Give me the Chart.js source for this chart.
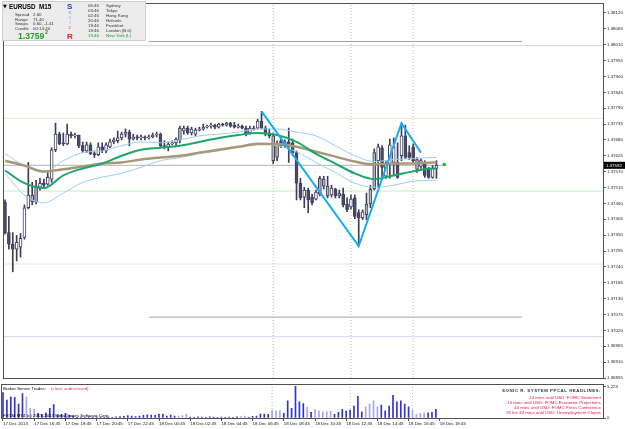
<!DOCTYPE html>
<html lang="en">
<head>
<meta charset="UTF-8">
<title>EURUSD M15</title>
<script src="https://cdn.jsdelivr.net/npm/chart.js@4.4.0/dist/chart.umd.min.js"></script>
<style>
    body { margin: 0; background: #fff; width: 625px; height: 429px; overflow: hidden; position: relative; }
    canvas { position: absolute; left: 0; }
    #main { top: 0; }
    #vol { top: 381px; }
</style>
</head>
<body>
<canvas id="main" width="625" height="382"></canvas>
<canvas id="vol" width="625" height="48"></canvas>
<script>
// ---- data (bar 0 = 17 Dec 14:45) ----
const opens = [1.37465,1.37359,1.37319,1.37301,1.37308,1.37342,1.37445,1.37489,1.37465,1.37516,
1.37530,1.37527,1.37544,1.37646,1.37700,1.37670,1.37666,1.37700,1.37694,1.37697,
1.37660,1.37642,1.37663,1.37632,1.37629,1.37656,1.37642,1.37656,1.37673,1.37677,
1.37687,1.37700,1.37707,1.37683,1.37690,1.37687,1.37690,1.37687,1.37690,1.37697,
1.37700,1.37660,1.37653,1.37666,1.37670,1.37680,1.37711,1.37721,1.37704,1.37700,
1.37714,1.37718,1.37724,1.37728,1.37731,1.37724,1.37735,1.37731,1.37738,1.37731,
1.37724,1.37728,1.37721,1.37704,1.37721,1.37721,1.37745,1.37721,1.37704,1.37694,
1.37619,1.37677,1.37660,1.37673,1.37670,1.37636,1.37530,1.37482,1.37506,1.37482,
1.37475,1.37492,1.37544,1.37520,1.37489,1.37510,1.37486,1.37492,1.37458,1.37448,
1.37479,1.37428,1.37411,1.37421,1.37458,1.37510,1.37608,1.37653,1.37554,1.37598,
1.37602,1.37602,1.37625,1.37694,1.37636,1.37656,1.37612,1.37588,1.37598,1.37578,
1.37550,1.37581];
const highs = [1.37472,1.37415,1.37359,1.37349,1.37356,1.37455,1.37602,1.37533,1.37540,1.37547,
1.37544,1.37567,1.37653,1.37738,1.37707,1.37704,1.37735,1.37707,1.37704,1.37697,
1.37673,1.37673,1.37670,1.37642,1.37670,1.37670,1.37670,1.37683,1.37687,1.37711,
1.37707,1.37718,1.37714,1.37700,1.37697,1.37697,1.37694,1.37697,1.37704,1.37707,
1.37704,1.37677,1.37673,1.37677,1.37687,1.37728,1.37728,1.37728,1.37724,1.37721,
1.37724,1.37735,1.37731,1.37738,1.37735,1.37738,1.37738,1.37741,1.37741,1.37741,
1.37735,1.37731,1.37728,1.37728,1.37728,1.37752,1.37779,1.37728,1.37718,1.37704,
1.37677,1.37687,1.37680,1.37721,1.37683,1.37642,1.37547,1.37516,1.37513,1.37492,
1.37506,1.37554,1.37554,1.37554,1.37523,1.37513,1.37506,1.37513,1.37479,1.37489,
1.37489,1.37438,1.37438,1.37496,1.37523,1.37649,1.37666,1.37660,1.37605,1.37683,
1.37687,1.37670,1.37738,1.37731,1.37660,1.37666,1.37619,1.37615,1.37608,1.37585,
1.37591,1.37608];
const lows = [1.37353,1.37301,1.37223,1.37261,1.37274,1.37336,1.37441,1.37455,1.37458,1.37506,
1.37513,1.37523,1.37533,1.37639,1.37663,1.37660,1.37663,1.37687,1.37687,1.37653,
1.37636,1.37636,1.37629,1.37619,1.37625,1.37636,1.37636,1.37653,1.37666,1.37670,
1.37680,1.37690,1.37660,1.37680,1.37680,1.37680,1.37680,1.37683,1.37687,1.37690,
1.37656,1.37649,1.37642,1.37663,1.37660,1.37670,1.37700,1.37700,1.37697,1.37694,
1.37711,1.37714,1.37721,1.37721,1.37718,1.37721,1.37728,1.37728,1.37724,1.37721,
1.37721,1.37718,1.37694,1.37700,1.37714,1.37718,1.37718,1.37694,1.37687,1.37598,
1.37608,1.37653,1.37653,1.37602,1.37625,1.37472,1.37472,1.37445,1.37428,1.37455,
1.37472,1.37486,1.37510,1.37479,1.37482,1.37479,1.37479,1.37448,1.37431,1.37441,
1.37407,1.37312,1.37404,1.37404,1.37445,1.37506,1.37516,1.37550,1.37547,1.37547,
1.37557,1.37547,1.37608,1.37615,1.37612,1.37602,1.37567,1.37581,1.37550,1.37547,
1.37547,1.37547];
const closes = [1.37359,1.37319,1.37301,1.37325,1.37339,1.37445,1.37489,1.37465,1.37520,1.37530,
1.37523,1.37550,1.37646,1.37700,1.37666,1.37666,1.37700,1.37694,1.37697,1.37660,
1.37642,1.37663,1.37632,1.37629,1.37656,1.37642,1.37663,1.37673,1.37680,1.37687,
1.37700,1.37707,1.37683,1.37690,1.37687,1.37690,1.37687,1.37690,1.37697,1.37700,
1.37660,1.37656,1.37666,1.37670,1.37683,1.37721,1.37721,1.37704,1.37718,1.37714,
1.37718,1.37724,1.37728,1.37731,1.37724,1.37735,1.37731,1.37738,1.37728,1.37724,
1.37728,1.37721,1.37700,1.37721,1.37718,1.37745,1.37721,1.37700,1.37694,1.37608,
1.37666,1.37660,1.37673,1.37663,1.37636,1.37530,1.37479,1.37506,1.37472,1.37462,
1.37499,1.37547,1.37520,1.37486,1.37513,1.37486,1.37496,1.37455,1.37438,1.37475,
1.37415,1.37411,1.37431,1.37458,1.37510,1.37636,1.37656,1.37585,1.37595,1.37663,
1.37656,1.37550,1.37694,1.37619,1.37619,1.37608,1.37578,1.37608,1.37557,1.37550,
1.37581,1.37592];
const volumes = [4190,2934,3476,3400,2282,4020,3476,1576,1413,761,
598,870,1576,2228,489,598,761,489,326,109,
150,120,180,100,200,140,90,160,120,210,
217,260,380,300,250,330,420,540,490,430,
650,600,330,490,330,330,380,600,160,120,
180,140,110,200,150,120,160,130,170,120,
180,220,330,110,260,330,650,650,600,1300,
1200,1200,760,2826,1576,5223,2663,2390,1750,950,
1450,1195,1032,1032,1141,598,924,1413,1141,1304,
1956,3586,1032,1847,2282,2826,1847,2119,1195,1956,
3749,2663,2826,2282,1847,1304,598,761,870,870,
924,1413];
// bars drawn pale by the chart template
const paleCandles = [7,8,45,69,70,81,82,83,86,93,94,95,106];
const paleVolumes = [6,7,8,45,46,47,61,62,69,70,71,78,80,81,82,83,84,93,94,95,96,105,106,107,108];

// indicator lines, sampled every 5 bars
const maBars = [0,5,10,15,20,25,30,35,40,45,50,55,60,65,70,75,80,85,90,95,100,105,110,111];
const greenMA = [1.37574,1.37530,1.37513,1.37557,1.37581,1.37598,1.37625,1.37646,1.37653,1.37660,1.37673,1.37687,
                 1.37697,1.37704,1.37697,1.37673,1.37632,1.37598,1.37564,1.37544,1.37557,1.37571,1.37581,1.37581];
const tanMA = [1.37608,1.37591,1.37571,1.37578,1.37588,1.37598,1.37602,1.37612,1.37619,1.37625,1.37636,1.37646,
               1.37656,1.37666,1.37666,1.37656,1.37639,1.37622,1.37605,1.37595,1.37598,1.37598,1.37602,1.37602];
const upperBand = [1.37632,1.37591,1.37567,1.37608,1.37636,1.37642,1.37660,1.37673,1.37670,1.37680,1.37694,1.37700,
                   1.37707,1.37718,1.37718,1.37707,1.37694,1.37660,1.37625,1.37605,1.37612,1.37615,1.37619,1.37619];
const lowerBand = [1.37564,1.37489,1.37462,1.37496,1.37533,1.37551,1.37564,1.37585,1.37608,1.37619,1.37632,1.37642,
                   1.37656,1.37670,1.37660,1.37639,1.37602,1.37567,1.37530,1.37516,1.37523,1.37537,1.37540,1.37540];
const zigzagBars = [66, 91, 102, 107];
const zigzagPrices = [1.37779, 1.37312, 1.37738, 1.37636];

const bidPrice = 1.37592;
const pivotLevels = [1.38007, 1.37755, 1.37503, 1.37250, 1.36998];
const pivotColors = ['#d4d4f2', '#e4e8d4', '#c4eec4', '#e8e8d6', '#d4d4f2'];
const boxLevels = [1.38021, 1.37066];
const boxFromBar = 37, boxToBar = 133;
const newsBars = [69, 89, 105];

const priceTicks = [1.38120,1.38065,1.38010,1.37955,1.37900,1.37845,1.37790,1.37735,1.37680,1.37625,
1.37570,1.37515,1.37460,1.37405,1.37350,1.37295,1.37240,1.37185,1.37130,1.37075,1.37020,1.36965,1.36910,1.36855];
const timeTickBars = [0,8,16,24,32,40,48,56,64,72,80,88,96,104,112];
const timeLabels = ['17 Dec 2013','17 Dec 16:45','17 Dec 18:45','17 Dec 20:45','17 Dec 22:45','18 Dec 00:45',
'18 Dec 02:45','18 Dec 04:45','18 Dec 06:45','18 Dec 08:45','18 Dec 10:45','18 Dec 12:45','18 Dec 14:45',
'18 Dec 16:45','18 Dec 18:45'];
const volumeTicks = [0, 5223];

// ---- layout ----
const FONT = '"Liberation Sans", Arial, sans-serif';
const X_MIN = -0.2564, X_MAX = 153.846;
const Y_MIN = 1.36855, Y_MAX = 1.38151;
const V_MAX = 5500;

const idx = opens.map((o, i) => i);
const hline = (y, from, to) => [{x: from, y: y}, {x: to, y: y}];
const lineSet = (data, color, width, order, extra) => Object.assign({
    type: 'line', data: data, borderColor: color, borderWidth: width,
    pointRadius: 0, fill: false, order: order
}, extra || {});

// frame around each panel
const frame = {
    id: 'frame',
    afterDraw(chart) {
        const {ctx, chartArea: a} = chart;
        ctx.save();
        ctx.strokeStyle = '#505050';
        ctx.lineWidth = 1;
        ctx.strokeRect(Math.round(a.left) - 0.5, Math.round(a.top) - 0.5,
            Math.round(a.right - a.left) + 1, Math.round(a.bottom - a.top) + 1);
        ctx.restore();
    }
};

// top-left info panel and bid label
const infoPanel = {
    id: 'infoPanel',
    afterDraw(chart) {
        const ctx = chart.ctx;
        const txt = (s, x, y, size, color, weight, family) => {
            ctx.font = (weight || 'normal') + ' ' + size + 'px ' + (family || FONT);
            ctx.fillStyle = color;
            ctx.fillText(s, x, y);
        };
        ctx.save();
        ctx.textBaseline = 'alphabetic';
        ctx.textAlign = 'left';
        ctx.fillStyle = '#ececec';
        ctx.fillRect(2, 1, 144, 40);
        ctx.strokeStyle = '#cfcfcf';
        ctx.strokeRect(2.5, 1.5, 143, 39);

        txt('\u25BC', 3, 8, 5, '#000', 'normal', '"DejaVu Sans"');
        txt('EURUSD', 9, 9, 6.3, '#000', 'bold');
        txt('M15', 39, 9, 6.3, '#000', 'bold');
        const rows = [['Spread', '2.60'], ['Range', '71.40'], ['Swaps', '0.60, -1.41'], ['Candle', '00:14:40']];
        rows.forEach((r, k) => {
            txt(r[0], 15, 16 + k * 4.7, 4.4, '#333');
            txt(r[1], 33, 16 + k * 4.7, 4.4, '#333');
        });
        txt('1.3759', 18, 39, 8.6, '#22a02a', 'bold');
        txt('2', 45, 34, 5.5, '#22a02a', 'bold');

        txt('S', 67, 9, 8, '#2a3ad8', 'bold');
        txt('o', 68.5, 14, 5, '#7c8ce6');
        txt('n', 68.5, 19, 5, '#a4aef0');
        txt('i', 69.5, 24, 5, '#e078a8');
        txt('c', 68.5, 29, 5, '#e0507c');
        txt('R', 67, 39, 8, '#e01a24', 'bold');

        const zones = [['05:46', 'Sydney'], ['03:46', 'Tokyo'], ['02:46', 'Hong Kong'], ['20:46', 'Helsinki'],
                       ['19:46', 'Frankfurt'], ['18:46', 'London (B.0)'], ['13:46', 'New York (L)']];
        zones.forEach((z, k) => {
            const c = k === 6 ? '#139a13' : '#333';
            txt(z[0], 88, 7 + k * 5, 4.4, c);
            txt(z[1], 106, 7 + k * 5, 4.4, c);
        });

        // bid price box on the price axis
        const y = chart.scales.y.getPixelForValue(bidPrice);
        ctx.fillStyle = '#000';
        ctx.fillRect(604, y - 3.5, 21, 7);
        txt(bidPrice.toFixed(5), 606, y + 1.6, 4.4, '#fff');
        ctx.restore();
    }
};

// texts in the volume window
const volumeTexts = {
    id: 'volumeTexts',
    afterDraw(chart) {
        const ctx = chart.ctx;
        const txt = (s, x, y, size, color, weight, align) => {
            ctx.font = (weight || 'normal') + ' ' + size + 'px ' + FONT;
            ctx.fillStyle = color;
            ctx.textAlign = align || 'left';
            ctx.fillText(s, x, y);
        };
        ctx.save();
        ctx.textBaseline = 'alphabetic';
        txt('Broker Server Trades:', 3, 8.5, 4.4, '#000');
        txt('(close undisclosed)', 51, 8.5, 4.4, '#e0306c');
        txt('FXCM MT4 (c) 2001-2013 MetaQuotes Software Corp.', 3, 35.5, 4.4, '#000');
        ctx.letterSpacing = '0.5px';
        txt('SONIC R. SYSTEM PPCAL HEADLINES:', 601, 11, 4.4, '#333', 'bold', 'right');
        ctx.letterSpacing = '0px';
        const news = ['14 mins until USD: FOMC Statement', '14 mins until USD: FOMC Economic Projections',
                      '44 mins until USD: FOMC Press Conference', '18 hrs 44 mins until USD: Unemployment Claims'];
        news.forEach((s, k) => txt(s, 601, 18 + k * 5, 4.4, '#e2183e', 'normal', 'right'));
        ctx.restore();
    }
};

function initCharts() {
    const datasets = [];
    pivotLevels.forEach((p, k) => datasets.push(lineSet(hline(p, X_MIN, X_MAX), pivotColors[k], 1, 12)));
    boxLevels.forEach(p => datasets.push(lineSet(hline(p, boxFromBar, boxToBar), '#a4a4a4', 1, 11)));
    datasets.push(lineSet(hline(bidPrice, -1, 113.5), '#b4b4b4', 1, 11));
    newsBars.forEach(b => datasets.push(lineSet([{x: b, y: Y_MIN}, {x: b, y: Y_MAX}], '#bcbcbc', 1, 11, {borderDash: [1, 2]})));

    datasets.push({
        type: 'bar', grouped: false, order: 7,
        data: idx.map(i => ({x: i, y: [lows[i], highs[i]]})),
        backgroundColor: '#3e3e5c', barThickness: 1, borderWidth: 0
    });
    datasets.push({
        type: 'bar', grouped: false, order: 6, minBarLength: 1,
        data: idx.map(i => ({x: i, y: [opens[i], closes[i]]})),
        backgroundColor: idx.map(i => paleCandles.includes(i) ? '#b6b6c0' : (closes[i] >= opens[i] ? '#ffffff' : '#4c4c68')),
        borderColor: '#3e3e5c', borderWidth: 1, borderSkipped: false, barThickness: 3
    });

    const maPts = arr => maBars.map((b, k) => ({x: b, y: arr[k]}));
    const smooth = {cubicInterpolationMode: 'monotone'};
    datasets.push(lineSet(maPts(upperBand), '#9ccdf3', 1, 5, smooth));
    datasets.push(lineSet(maPts(lowerBand), '#9ccdf3', 1, 5, smooth));
    datasets.push(lineSet(maPts(tanMA), '#a89878', 2.5, 4, smooth));
    datasets.push(lineSet(maPts(greenMA), '#1ea66a', 2, 3, smooth));
    datasets.push(lineSet(zigzagBars.map((b, k) => ({x: b, y: zigzagPrices[k]})), '#18acf0', 2, 2));
    datasets.push(lineSet([{x: 113, y: 1.37595}], '#1ea66a', 0, 1, {pointRadius: 1.8, pointBackgroundColor: '#18b040', pointBorderWidth: 0, showLine: false}));

    new Chart(document.getElementById('main'), {
        type: 'bar',
        data: {datasets: datasets},
        options: {
            animation: false, responsive: false, maintainAspectRatio: false,
            layout: {padding: {left: 2, top: 1, right: 0, bottom: 1}},
            plugins: {legend: {display: false}, tooltip: {enabled: false}},
            scales: {
                x: {type: 'linear', min: X_MIN, max: X_MAX, offset: false, display: false},
                y: {
                    position: 'right', min: Y_MIN, max: Y_MAX,
                    afterBuildTicks: s => { s.ticks = priceTicks.map(v => ({value: v})); },
                    afterFit: s => { s.width = 22; },
                    ticks: {autoSkip: false, padding: 1, color: '#222', font: {size: 4.4, family: FONT},
                            callback: v => v.toFixed(5)},
                    grid: {drawOnChartArea: false, tickLength: 3, color: '#555'},
                    border: {color: '#505050'}
                }
            }
        },
        plugins: [frame, infoPanel]
    });

    const volSets = [];
    newsBars.forEach(b => volSets.push(lineSet([{x: b, y: 0}, {x: b, y: V_MAX}], '#bcbcbc', 1, 3, {borderDash: [1, 2]})));
    volSets.push({
        type: 'bar', grouped: false, order: 1,
        data: idx.map(i => ({x: i, y: volumes[i]})),
        backgroundColor: idx.map(i => paleVolumes.includes(i) ? '#a6a6f0' : '#3232d0'),
        barThickness: 1, borderWidth: 0
    });

    new Chart(document.getElementById('vol'), {
        type: 'bar',
        data: {datasets: volSets},
        options: {
            animation: false, responsive: false, maintainAspectRatio: false,
            layout: {padding: {left: 2, top: 3, right: 0, bottom: 0}},
            plugins: {legend: {display: false}, tooltip: {enabled: false}},
            scales: {
                x: {
                    type: 'linear', min: X_MIN, max: X_MAX, offset: false,
                    afterBuildTicks: s => { s.ticks = timeTickBars.map(v => ({value: v})); },
                    afterFit: s => { s.height = 11; },
                    ticks: {autoSkip: false, maxRotation: 0, align: 'start', padding: 0, color: '#111',
                            font: {size: 4.4, family: FONT}, callback: (v, k) => timeLabels[k]},
                    grid: {drawOnChartArea: false, offset: false, tickLength: 3, color: '#555'},
                    border: {display: false}
                },
                y: {
                    position: 'right', min: 0, max: V_MAX,
                    afterBuildTicks: s => { s.ticks = volumeTicks.map(v => ({value: v})); },
                    afterFit: s => { s.width = 22; },
                    ticks: {autoSkip: false, padding: 1, color: '#222', font: {size: 4.4, family: FONT}},
                    grid: {drawOnChartArea: false, tickLength: 3, color: '#555'},
                    border: {color: '#505050'}
                }
            }
        },
        plugins: [frame, volumeTexts]
    });
}

initCharts();
</script>
</body>
</html>
